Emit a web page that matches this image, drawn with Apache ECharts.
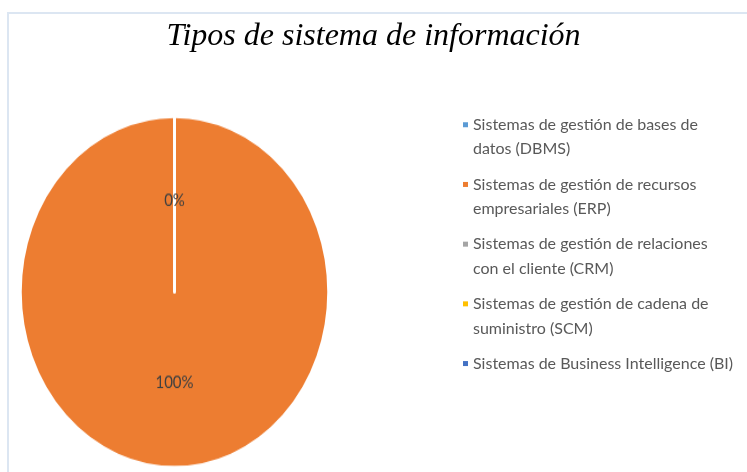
<!DOCTYPE html>
<html>
<head>
<meta charset="utf-8">
<script src="https://cdn.jsdelivr.net/npm/echarts@6/dist/echarts.min.js"></script>
<style>
  html, body { margin: 0; padding: 0; background: #ffffff; }
  #wrap { position: relative; width: 747px; height: 472px; overflow: hidden; }
  #main { position: absolute; left: 0; top: 0; width: 747px; height: 472px; }
  #pie { position: absolute; left: 0; top: 0; width: 360px; height: 415px;
         transform: scaleY(1.138); transform-origin: 0 0; }
</style>
</head>
<body>
<div id="wrap">
  <div id="main"></div>
  <div id="pie"></div>
</div>
<script>
const titleText = 'Tipos de sistema de información';
const categories = [
  'Sistemas de gestión de bases de datos (DBMS)',
  'Sistemas de gestión de recursos empresariales (ERP)',
  'Sistemas de gestión de relaciones con el cliente (CRM)',
  'Sistemas de gestión de cadena de suministro (SCM)',
  'Sistemas de Business Intelligence (BI)'
];
const values = [0, 100, 0, 0, 0];
const legendLines = [
  ['Sistemas de gestión de bases de', 'datos (DBMS)'],
  ['Sistemas de gestión de recursos', 'empresariales (ERP)'],
  ['Sistemas de gestión de relaciones', 'con el cliente (CRM)'],
  ['Sistemas de gestión de cadena de', 'suministro (SCM)'],
  ['Sistemas de Business Intelligence (BI)', '']
];
const colors = ['#5B9BD5', '#ED7D31', '#A5A5A5', '#FFC000', '#4472C4'];

const pieData = categories.map((c, i) => ({ name: c, value: values[i] }));

const main = echarts.init(document.getElementById('main'));
main.setOption({
  animation: false,
  color: colors,
  graphic: [{
    type: 'rect',
    shape: { x: 8, y: 13, width: 800, height: 500 },
    style: { fill: 'none', stroke: '#dce6f2', lineWidth: 2 },
    silent: true
  }],
  title: {
    text: titleText,
    left: 'center',
    top: 21,
    padding: 0,
    textStyle: {
      fontFamily: '"Liberation Serif", "Times New Roman", serif',
      fontStyle: 'italic',
      fontWeight: 'normal',
      fontSize: 32,
      color: '#000000'
    }
  },
  legend: {
    orient: 'vertical',
    left: 463,
    top: 88,
    padding: 0,
    itemWidth: 5,
    itemHeight: 5,
    itemGap: -13.8,
    icon: 'rect',
    selectedMode: false,
    data: categories,
    formatter: function (name) {
      const idx = categories.indexOf(name);
      return '\n' + legendLines[idx].join('\n');
    },
    textStyle: {
      fontFamily: 'Lato, sans-serif',
      fontSize: 16,
      lineHeight: 24.5,
      color: '#595959'
    }
  },
  series: [{
    type: 'pie',
    radius: [0, 0],
    silent: true,
    label: { show: false },
    labelLine: { show: false },
    data: pieData
  }]
});

const pie = echarts.init(document.getElementById('pie'));
pie.setOption({
  animation: false,
  color: colors,
  series: [{
    type: 'pie',
    center: [174.5, 256.6],
    radius: [0, 154],
    startAngle: 90,
    clockwise: true,
    silent: true,
    itemStyle: { borderColor: '#ffffff', borderWidth: 2.5 },
    label: {
      show: true,
      position: 'inside',
      formatter: '{d}%',
      fontFamily: 'Lato, sans-serif',
      fontSize: 15,
      color: '#404040'
    },
    labelLine: { show: false },
    data: pieData
  }]
});
</script>
</body>
</html>
